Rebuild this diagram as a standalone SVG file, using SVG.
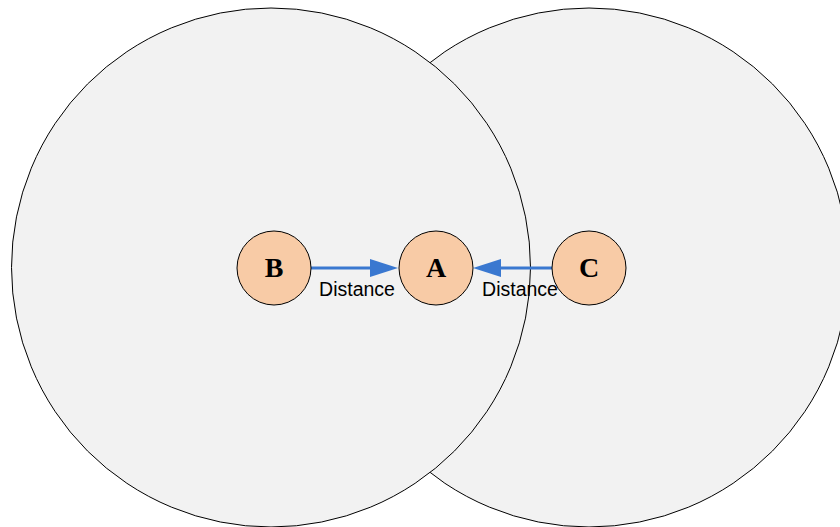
<svg xmlns="http://www.w3.org/2000/svg" width="840" height="527" viewBox="0 0 840 527">
<style>
.zone{fill:#f2f2f2;stroke:#000;stroke-width:1}
.node{fill:#f8cba6;stroke:#000;stroke-width:1}
.lbl{font-family:"Liberation Serif",serif;font-weight:bold;font-size:28px;text-anchor:middle;fill:#000}
.cap{font-family:"Liberation Sans",Arial,sans-serif;font-size:19.5px;text-anchor:middle;fill:#000}
.edge{stroke:#3a78d0;stroke-width:3;fill:none}
</style>
<g id="zoneC"><circle class="zone" cx="589" cy="267.5" r="259.5"/></g>
<g id="zoneB"><circle class="zone" cx="271" cy="267.5" r="259.5"/></g>
<g id="connectors">
<line class="edge" x1="311" y1="268" x2="375" y2="268"/>
<path d="M370,259 L398,268 L370,277 z" fill="#3a78d0"/>
<text class="cap" x="357" y="296">Distance</text>
<line class="edge" x1="552" y1="268" x2="495" y2="268"/>
<path d="M501,259 L473,268 L501,277 z" fill="#3a78d0"/>
<text class="cap" x="520" y="296">Distance</text>
</g>
<g id="B"><circle class="node" cx="274" cy="268" r="37"/><text class="lbl" x="274" y="277">B</text></g>
<g id="A"><circle class="node" cx="436" cy="268" r="37"/><text class="lbl" x="436" y="277">A</text></g>
<g id="C"><circle class="node" cx="589" cy="268" r="37"/><text class="lbl" x="589" y="277">C</text></g>
</svg>
